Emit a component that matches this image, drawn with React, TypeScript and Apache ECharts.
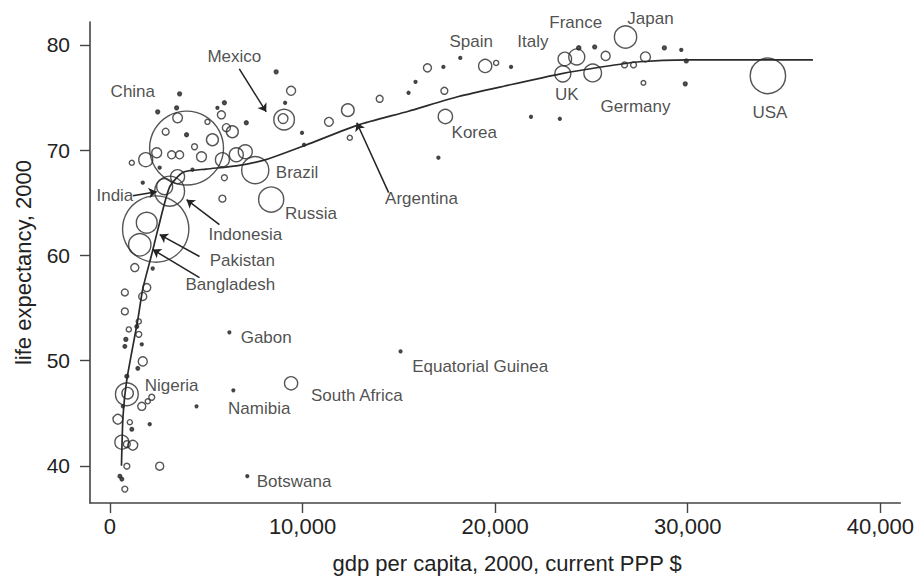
import React, { useEffect, useRef } from "react";
import * as echarts from "echarts";

// ---- data ----
// gdp per capita (2000, current PPP $), life expectancy (2000), population (millions)
const countryNames = [
  "China", "India", "Indonesia", "Pakistan", "Bangladesh", "Brazil", "Russia", "Mexico", "", "Argentina",
  "Korea", "Spain", "UK", "Italy", "France", "Germany", "Japan", "USA", "Nigeria", "",
  "South Africa", "Gabon", "Namibia", "", "Equatorial Guinea", "Botswana",
];
const gdp = [
  3979, 2377, 3101, 1912, 1550, 7545, 8372, 9044, 8990, 12352,
  17416, 19483, 23514, 23618, 24238, 25065, 26770, 34161, 879, 920,
  9406, 6202, 4496, 6408, 15090, 7132,
  // upper-left cluster
  3618, 2481, 3514, 3463, 5788, 5943, 5581, 2894, 3979, 5065,
  7080, 5323, 6357, 6047, 4393, 2429, 1860, 1137, 3204, 3618,
  4755, 5840, 6563, 7028, 3514, 2842, 5943, 2584, 1705, 4289,
  5840, 8631, 9406, 9096, 11370, 9974, 10078, 12455,
  // upper-right
  14005, 15504, 15866, 16486, 17313, 18191, 17364, 20052, 20827, 21861,
  23359, 17054, 24341, 25168, 25737, 26719, 27184, 27804, 28786, 29664,
  29923, 27700, 29871,
  // lower-left column
  1292, 2222, 775, 1912, 1705, 775, 1499, 1395, 982, 1499,
  827, 1654, 775, 1705, 1447, 879, 2171, 1964, 1654, 672,
  413, 1034, 1137, 2067, 620, 879, 1189, 879, 2584, 517,
  620, 775,
];
const lifeExp = [
  70.2, 62.5, 66.1, 63.1, 61.0, 68.1, 65.3, 72.9, 73.0, 73.8,
  73.2, 78.0, 77.25, 78.67, 78.86, 77.34, 80.76, 77.06, 46.8, 46.9,
  47.84, 52.68, 45.65, 47.17, 50.87, 39.01,
  75.35, 73.64, 73.07, 74.02, 73.36, 74.5, 74.02, 71.75, 71.46, 72.69,
  72.6, 70.99, 71.75, 72.13, 70.32, 69.75, 69.09, 68.8, 69.56, 69.56,
  69.37, 69.09, 69.56, 69.85, 67.48, 66.53, 67.38, 68.33, 66.91, 68.14,
  65.39, 77.44, 75.64, 74.5, 72.69, 71.65, 70.51, 71.18,
  74.88, 75.45, 76.49, 77.82, 77.91, 78.77, 75.64, 78.29, 77.91, 73.17,
  72.98, 69.28, 79.72, 79.81, 78.96, 78.1, 78.1, 78.86, 79.72, 79.53,
  78.48, 76.39, 76.3,
  58.84, 58.75, 56.47, 56.94, 56.09, 54.67, 53.72, 53.24, 52.96, 52.49,
  52.01, 51.54, 51.35, 49.92, 49.26, 48.5, 46.51, 46.13, 45.65, 45.65,
  44.42, 44.14, 43.47, 43.95, 42.24, 42.05, 41.95, 39.96, 39.96, 39.01,
  38.73, 37.78,
];
const population = [
  1262, 1016, 206, 100, 115, 170, 146, 98, 22, 37,
  47, 40, 59, 42, 59, 72, 115, 290, 120, 30,
  40, 1.5, 1.8, 1.5, 1, 1.6,
  3.5, 3.5, 22, 3.5, 15, 3.5, 2, 11, 3.5, 6,
  3.5, 33, 33, 15, 8, 23, 45, 6, 15, 15,
  23, 45, 45, 45, 45, 59, 8, 2, 2, 2,
  11, 3.5, 19, 2, 18, 2, 2, 6,
  11, 2, 2, 15, 2, 2, 11, 6, 2, 2,
  2, 2, 4, 3.5, 19, 8, 8, 23, 3.5, 2,
  3.5, 5, 3.5,
  15, 2, 11, 15, 15, 11, 6, 3, 6, 8,
  3.5, 2, 3, 19, 3, 3.5, 8, 6, 15, 2,
  22, 6, 3, 2, 45, 11, 22, 8, 15, 3,
  3, 8,
];

// fitted curve
const curveGdp = [600, 680, 880, 1450, 1705, 2171, 2481, 3101, 3800, 5000, 6563, 8100, 10200, 12900, 15500, 18100, 20500, 23400, 25500, 27500, 30000, 36500];
const curveLife = [40.0, 44.7, 48.2, 53.9, 56.8, 60.1, 62.4, 66.5, 67.9, 68.2, 68.5, 69.1, 70.5, 72.4, 73.7, 75.1, 76.1, 77.25, 77.9, 78.4, 78.58, 78.58];

// country labels
const labelNames = ["Mexico", "China", "India", "Brazil", "Russia", "Indonesia", "Pakistan", "Bangladesh", "Argentina", "Korea", "Spain", "Italy", "France", "Japan", "UK", "Germany", "USA", "Gabon", "Nigeria", "Namibia", "South Africa", "Equatorial Guinea", "Botswana"];
const labelGdp = [6460, 1189, 258, 9716, 10440, 7028, 6873, 6253, 16176, 18915, 18760, 21964, 24186, 28062, 23721, 27287, 34264, 8114, 3204, 7752, 12817, 19225, 9561];
const labelLife = [78.86, 75.54, 65.67, 67.86, 63.97, 61.97, 59.51, 57.23, 65.39, 71.65, 80.28, 80.28, 82.09, 82.56, 75.26, 74.12, 73.55, 52.2, 47.65, 45.46, 46.7, 49.45, 38.54];

// annotation arrows: start (label side) -> end (point)
const arrowFromGdp = [6718, 14470, 5685, 4651, 4651, 1189];
const arrowFromLife = [77.72, 65.96, 62.92, 59.89, 57.89, 65.67];
const arrowToGdp = [8114, 12817, 3979, 2584, 2222, 2429];
const arrowToLife = [73.64, 72.6, 65.29, 61.97, 60.55, 66.05];

const xTicks = [0, 10000, 20000, 30000, 40000];
const yTicks = [40, 50, 60, 70, 80];

const FONT = "'Liberation Sans', Arial, sans-serif";

export default function App() {
  const ref = useRef<HTMLDivElement>(null);
  useEffect(() => {
    if (!ref.current) return;
    const chart = echarts.init(ref.current, undefined, { renderer: "svg" });
    const bubbles = gdp.map((g, i) => ({
      name: countryNames[i] || "",
      value: [g, lifeExp[i], population[i]],
      itemStyle: population[i] <= 4 ? { color: "#2a2a2a" } : undefined,
    }));
    const curve = curveGdp.map((g, i) => [g, curveLife[i]]);
    const labels = labelNames.map((n, i) => ({ name: n, value: [labelGdp[i], labelLife[i]] }));
    const arrows = arrowFromGdp.map((g, i) => [
      { coord: [g, arrowFromLife[i]], symbol: "none" },
      { coord: [arrowToGdp[i], arrowToLife[i]], symbol: "arrow" },
    ]);
    chart.setOption({
      animation: false,
      backgroundColor: "#ffffff",
      textStyle: { fontFamily: FONT },
      grid: { left: 90, right: 13, top: 22, bottom: 75 },
      xAxis: {
        type: "value",
        min: -1034,
        max: 41034,
        name: "gdp per capita, 2000, current PPP $",
        nameLocation: "middle",
        nameGap: 49,
        nameTextStyle: { fontSize: 22, color: "#222", fontFamily: FONT, padding: [0, 0, 0, 24] },
        axisLine: { show: true, onZero: false, lineStyle: { color: "#444", width: 1.6 } },
        axisTick: { show: true, length: 10, customValues: xTicks, lineStyle: { color: "#444", width: 1.4 } },
        axisLabel: {
          customValues: xTicks,
          fontSize: 22,
          color: "#222",
          margin: 12,
          fontFamily: FONT,
          formatter: (v: number) => v.toLocaleString("en-US"),
        },
        splitLine: { show: false },
      },
      yAxis: {
        type: "value",
        min: 36.46,
        max: 82.18,
        name: "life expectancy, 2000",
        nameLocation: "middle",
        nameRotate: 90,
        nameGap: 56,
        nameTextStyle: { fontSize: 22, color: "#222", fontFamily: FONT },
        axisLine: { show: true, onZero: false, lineStyle: { color: "#444", width: 1.6 } },
        axisTick: { show: true, length: 10, customValues: yTicks, lineStyle: { color: "#444", width: 1.4 } },
        axisLabel: { customValues: yTicks, fontSize: 21, color: "#222", margin: 20, fontFamily: FONT },
        splitLine: { show: false },
      },
      series: [
        {
          type: "scatter",
          data: bubbles,
          symbol: "circle",
          symbolSize: (v: number[]) => Math.max(2.8, 2.08 * Math.sqrt(v[2])),
          itemStyle: { color: "rgba(0,0,0,0)", borderColor: "#2a2a2a", borderWidth: 1.4 },
          z: 3,
        },
        {
          type: "line",
          data: curve,
          smooth: 0.2,
          showSymbol: false,
          symbol: "none",
          lineStyle: { color: "#2a2a2a", width: 1.7 },
          z: 4,
          markLine: {
            silent: true,
            symbolSize: 8,
            label: { show: false },
            lineStyle: { color: "#222", width: 1.5, type: "solid" },
            data: arrows,
          },
        },
        {
          type: "scatter",
          data: labels,
          clip: false,
          symbolSize: 1,
          itemStyle: { color: "rgba(0,0,0,0)" },
          label: {
            show: true,
            position: "inside",
            formatter: "{b}",
            fontSize: 17,
            color: "#222",
            fontFamily: FONT,
          },
          z: 5,
        },
      ],
    });
    return () => chart.dispose();
  }, []);
  return (
    <div
      ref={ref}
      style={{ position: "fixed", left: 0, top: 0, width: 917, height: 579, background: "#fff" }}
    />
  );
}
